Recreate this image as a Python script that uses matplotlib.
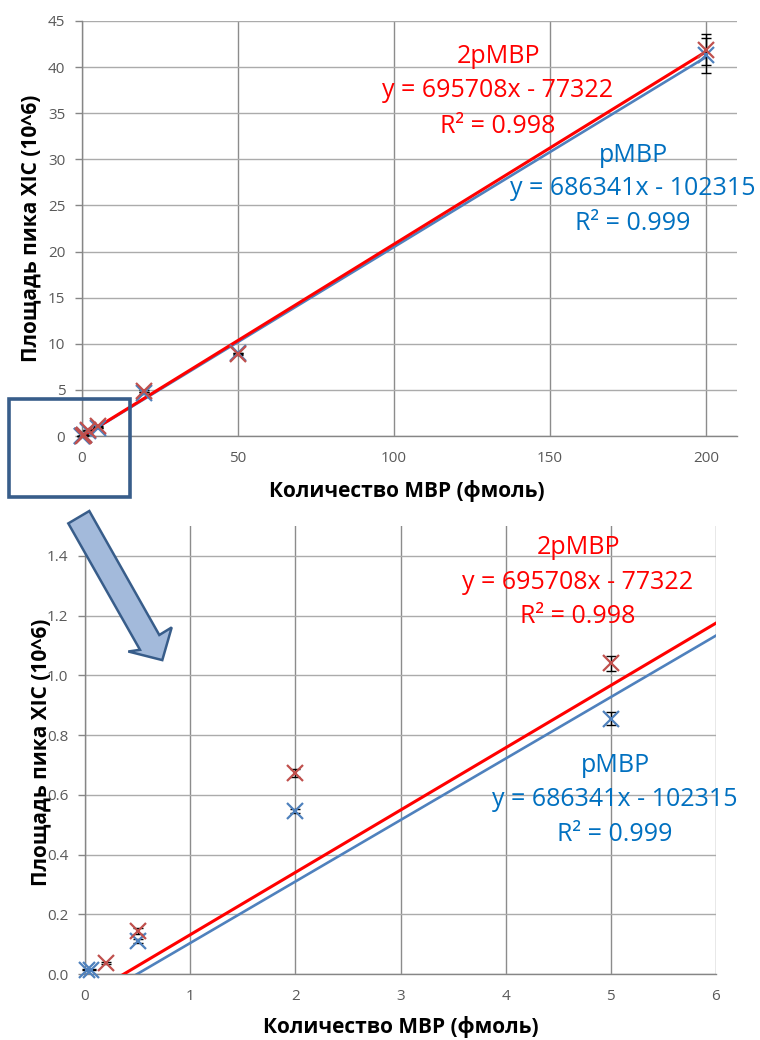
import matplotlib
matplotlib.use("Agg")
import matplotlib.pyplot as plt
from matplotlib.patches import Polygon, Rectangle
import numpy as np

# ---------------- data ----------------
blue_x = [0.02, 0.06, 0.5, 2, 5, 20, 50, 200]
blue_y = [0.015, 0.015, 0.11, 0.545, 0.855, 4.65, 8.95, 41.3]
blue_err = [0.003, 0.003, 0.006, 0.006, 0.021, 0.08, 0.1, 1.9]

red_x = [0.2, 0.5, 2, 5, 20, 50, 200]
red_y = [0.037, 0.144, 0.673, 1.04, 4.9, 8.85, 41.9]
red_err = [0.003, 0.01, 0.012, 0.026, 0.08, 0.1, 1.7]

# visual trendlines (y in 10^6)
red_fit = (0.2087, -0.0773)
blue_fit = (0.2059, -0.1023)
fit_range = [0, 200]

red_name = "2pMBP"
red_eq = "y = 695708x - 77322"
red_r2 = "R² = 0.998"
blue_name = "pMBP"
blue_eq = "y = 686341x - 102315"
blue_r2 = "R² = 0.999"

xlabel = "Количество MBP (фмоль)"
ylabel = "Площадь пика XIC (10^6)"

top_xticks = [0, 50, 100, 150, 200]
top_yticks = [0, 5, 10, 15, 20, 25, 30, 35, 40, 45]
bot_xticks = [0, 1, 2, 3, 4, 5, 6]
bot_yticks = [0.0, 0.2, 0.4, 0.6, 0.8, 1.0, 1.2, 1.4]

# ---------------- style ----------------
W, H = 760, 1040
FONT = "Open Sans"
plt.rcParams['font.family'] = [FONT, 'DejaVu Sans']

RED_LINE = "#FF0000"
BLUE_LINE = "#4F81BD"
RED_MK = "#C0504D"
BLUE_MK = "#4F81BD"
RED_TXT = "#FF0000"
BLUE_TXT = "#0070C0"
TICK_C = "#595959"
GRID_H = "#ABABAB"
GRID_V = "#8C8C8C"
SPINE_C = "#868686"

fig = plt.figure(figsize=(W / 100, H / 100), dpi=100)


def ax_rect(l, t, r, b):
    return [l / W, 1 - b / H, (r - l) / W, (b - t) / H]


def fx(x):
    return x / W


def fy(y):
    return 1 - y / H


ax1 = fig.add_axes(ax_rect(82, 21, 737, 436))
ax2 = fig.add_axes(ax_rect(85, 526, 716, 974))


def style_axes(ax, xlim, ylim, xticks, yticks, yfmt):
    ax.set_xlim(*xlim)
    ax.set_ylim(*ylim)
    ax.set_xticks(xticks)
    ax.set_yticks(yticks)
    ax.set_yticklabels([yfmt.format(v) for v in yticks])
    ax.set_xticklabels([str(v) for v in xticks])
    for s in ['top', 'right']:
        ax.spines[s].set_visible(False)
    for s in ['left', 'bottom']:
        ax.spines[s].set_color(SPINE_C)
        ax.spines[s].set_linewidth(1)
    ax.tick_params(axis='y', length=5, width=1, color=SPINE_C, pad=7,
                   labelsize=11, labelcolor=TICK_C)
    ax.tick_params(axis='x', length=0, pad=11, labelsize=11, labelcolor=TICK_C)
    ax.grid(True, axis='y', color=GRID_H, linewidth=1)
    ax.grid(True, axis='x', color=GRID_V, linewidth=1)
    ax.set_axisbelow(True)


style_axes(ax1, (0, 210), (0, 45), top_xticks, top_yticks, "{:g}")
style_axes(ax2, (0, 6), (0, 1.5), bot_xticks, bot_yticks, "{:.1f}")

xs = np.array(fit_range, dtype=float)
for ax in (ax1, ax2):
    ax.plot(xs, blue_fit[0] * xs + blue_fit[1], color=BLUE_LINE, lw=1.9, zorder=3)
    ax.plot(xs, red_fit[0] * xs + red_fit[1], color=RED_LINE, lw=2.2, zorder=4)
    ax.errorbar(blue_x, blue_y, yerr=blue_err, fmt='none', ecolor='black',
                elinewidth=1, capsize=3.5, capthick=1, zorder=5, clip_on=False)
    ax.errorbar(red_x, red_y, yerr=red_err, fmt='none', ecolor='black',
                elinewidth=1, capsize=3.5, capthick=1, zorder=5, clip_on=False)
    ax.plot(blue_x, blue_y, linestyle='none', marker='x', ms=12, mew=1.6,
            color=BLUE_MK, zorder=6, clip_on=False)
    ax.plot(red_x, red_y, linestyle='none', marker='x', ms=12, mew=1.6,
            color=RED_MK, zorder=6, clip_on=False)

# annotations (pixel positions, baselines)
TS = 18


def label_block(cx, baselines, texts, color):
    for b, t in zip(baselines, texts):
        fig.text(fx(cx), fy(b), t, color=color, fontsize=TS, ha='center',
                 va='baseline', family=[FONT, 'DejaVu Sans'], zorder=10)


label_block(498, [63, 97, 133], [red_name, red_eq, red_r2], RED_TXT)
label_block(633, [162, 195, 230], [blue_name, blue_eq, blue_r2], BLUE_TXT)
label_block(578, [554, 589, 623], [red_name, red_eq, red_r2], RED_TXT)
label_block(615, [772, 806, 841], [blue_name, blue_eq, blue_r2], BLUE_TXT)

# axis labels
LS = 15
fig.text(fx(407), fy(491), xlabel, fontsize=LS, fontweight='bold', ha='center',
         va='center', color='black')
fig.text(fx(31), fy(228), ylabel, fontsize=LS, fontweight='bold', ha='center',
         va='center', rotation=90, color='black')
fig.text(fx(401), fy(1027), xlabel, fontsize=LS, fontweight='bold', ha='center',
         va='center', color='black')
fig.text(fx(41), fy(752), ylabel, fontsize=LS, fontweight='bold', ha='center',
         va='center', rotation=90, color='black', zorder=10)

# zoom box on top chart
box_pts = [(9, 399), (130, 399), (130, 497), (9, 497)]
fig.add_artist(Polygon([(fx(x), fy(y)) for x, y in box_pts], closed=True,
                       fill=False, edgecolor="#385D8A", linewidth=2.6,
                       transform=fig.transFigure, zorder=20))

# arrow
arrow_pts = [(68.3, 523.4), (89.3, 511.0), (159.3, 635.0), (171.7, 627.4),
             (162.3, 660.1), (128.3, 651.5), (140.0, 649.8)]
fig.add_artist(Polygon([(fx(x), fy(y)) for x, y in arrow_pts], closed=True,
                       facecolor="#A3BADB", edgecolor="#385D8A", linewidth=1.8,
                       transform=fig.transFigure, zorder=20))

fig.savefig("out.png", dpi=100)
